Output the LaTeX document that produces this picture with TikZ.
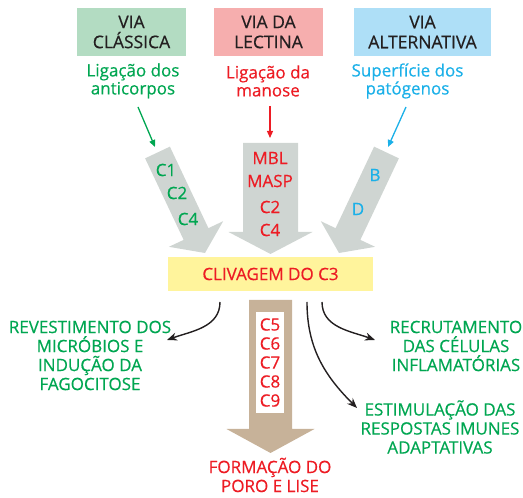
\documentclass[tikz,border=0pt]{standalone}
\usepackage{fontspec}
\setmainfont{Open Sans}[FakeBold=0.5]
\usetikzlibrary{positioning,calc,arrows.meta}

\definecolor{boxgreen}{HTML}{B3DCC2}
\definecolor{boxpink}{HTML}{F6AEAE}
\definecolor{boxblue}{HTML}{AEDFF7}
\definecolor{txtgreen}{HTML}{00A651}
\definecolor{txtred}{HTML}{ED1C24}
\definecolor{txtblue}{HTML}{1BB0E8}
\definecolor{inkgray}{HTML}{231F20}
\definecolor{arrowgray}{HTML}{CFD5D2}
\definecolor{arrowtan}{HTML}{C7B299}
\definecolor{c3yellow}{HTML}{FFF49C}

% fat arrow: fill, start, tip, shaft half width, head half width, head length
\newcommand{\fatarrow}[6]{%
  \coordinate (fa-b) at ($(#3)!#6!(#2)$);
  \fill[#1] ($(#2)!#4!90:(#3)$) -- ($(fa-b)!#4!90:(#3)$) -- ($(fa-b)!#5!90:(#3)$)
    -- (#3) -- ($(fa-b)!#5!-90:(#3)$) -- ($(fa-b)!#4!-90:(#3)$)
    -- ($(#2)!#4!-90:(#3)$) -- cycle;}

\begin{document}
\begin{tikzpicture}[x=1pt, y=1pt,
  via/.style={minimum height=48pt, inner sep=0pt, align=center, text=inkgray,
    font=\fontsize{17.5}{20}\selectfont},
  trigger/.style={align=center, font=\fontsize{17}{18}\selectfont},
  thin/.style={-{Triangle[length=7pt,width=6pt]}, line width=1.3pt},
  lbl/.style={inner sep=1pt, font=\fontsize{17}{18}\selectfont},
  outcome/.style={align=center, inner sep=1pt, font=\fontsize{17}{19}\selectfont},
  curv/.style={-{Stealth[length=10pt,width=8pt]}, line width=1.4pt, draw=inkgray},
]
\useasboundingbox (0,0) rectangle (523,498);

% the three pathways
\node[via, fill=boxgreen, minimum width=109pt] (classica) at (131.5,466) {VIA\\CLÁSSICA};
\node[via, fill=boxpink, minimum width=109pt] (lectina) at (268.5,466) {VIA DA\\LECTINA};
\node[via, fill=boxblue, minimum width=137pt] (altern) at (422.5,466) {VIA\\ALTERNATIVA};

\node[trigger, text=txtgreen] (anti) at (133,417) {Ligação dos\\anticorpos};
\node[trigger, text=txtred] (mano) at (268,417) {Ligação da\\manose};
\node[trigger, text=txtblue] (pato) at (407.5,417) {Superfície dos\\patógenos};

\coordinate (ga) at (138,391);  \coordinate (gb) at (155,351);
\coordinate (ra) at (270,392);  \coordinate (rb) at (270,360);
\coordinate (ba) at (406,391);  \coordinate (bb) at (388,351);
\draw[thin, txtgreen] (ga) -- (gb);
\draw[thin, txtred] (ra) -- (rb);
\draw[thin, txtblue] (ba) -- (bb);

% gray arrows into the C3 cleavage
\coordinate (ls) at (157.5,345.5); \coordinate (lt) at (205,245);
\coordinate (ms) at (270.5,355);   \coordinate (mt) at (270.5,244);
\coordinate (rs) at (386.5,345.5); \coordinate (rt) at (339,245);
\fatarrow{arrowgray}{ls}{lt}{13.7pt}{30pt}{21pt}
\fatarrow{arrowgray}{ms}{mt}{27.5pt}{42pt}{22pt}
\fatarrow{arrowgray}{rs}{rt}{13.7pt}{30pt}{21pt}

\node[lbl, text=txtgreen] (c1) at (166,328) {C1};
\node[lbl, text=txtgreen] (c2) at (177,305) {C2};
\node[lbl, text=txtgreen] (c4) at (188,279) {C4};
\node[lbl, text=txtred] (mbl) at (270,340) {MBL};
\node[lbl, text=txtred] (masp) at (270,317) {MASP};
\node[lbl, text=txtred] (mc2) at (270,291) {C2};
\node[lbl, text=txtred] (mc4) at (270,268) {C4};
\node[lbl, text=txtblue] (fb) at (375,323) {B};
\node[lbl, text=txtblue] (fd) at (358,289) {D};

\node[fill=c3yellow, minimum width=205pt, minimum height=34pt, inner sep=0pt,
  text=txtred, font=\fontsize{17}{18}\selectfont] (c3) at (270.5,224) {CLIVAGEM DO C3};

% terminal pathway
\coordinate (ts) at (270.5,198); \coordinate (tt) at (270.5,45);
\fatarrow{arrowtan}{ts}{tt}{21.5pt}{44pt}{24pt}
\node[fill=white, minimum width=28pt, minimum height=101pt, inner sep=0pt, align=center,
  text=txtred, font=\fontsize{17}{19}\selectfont] (mac) at (270,135.5) {C5\\C6\\C7\\C8\\C9};
\node[outcome, text=txtred] (lise) at (270,23) {FORMAÇÃO DO\\PORO E LISE};

% effects
\node[outcome, text=txtgreen] (revest) at (90,142.5)
  {REVESTIMENTO DOS\\MICRÓBIOS E\\INDUÇÃO DA\\FAGOCITOSE};
\node[outcome, text=txtgreen] (recrut) at (456,152)
  {RECRUTAMENTO\\DAS CÉLULAS\\INFLAMATÓRIAS};
\node[outcome, text=txtgreen] (estim) at (440,71)
  {ESTIMULAÇÃO DAS\\RESPOSTAS IMUNES\\ADAPTATIVAS};

\coordinate (ea) at (220,196); \coordinate (eb) at (167,158);
\coordinate (ec) at (322,196); \coordinate (ed) at (375,158);
\coordinate (ee) at (307,196); \coordinate (ef) at (357,90);
\draw[curv] (ea) to[out=-90, in=20] (eb);
\draw[curv] (ec) to[out=-90, in=160] (ed);
\draw[curv] (ee) to[out=-90, in=135] (ef);
\end{tikzpicture}
\end{document}
